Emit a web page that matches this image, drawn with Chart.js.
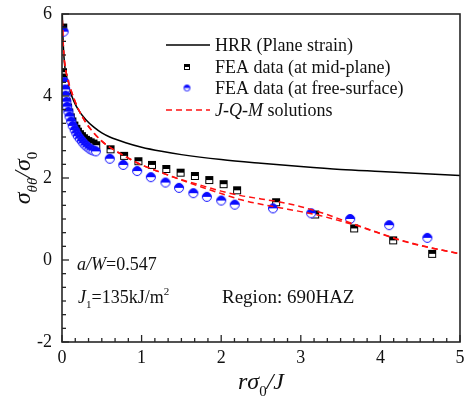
<!DOCTYPE html>
<html><head><meta charset="utf-8">
<script src="https://cdn.jsdelivr.net/npm/chart.js@4.4.1/dist/chart.umd.min.js"></script>
<style>html,body{margin:0;padding:0;background:#fff}canvas{display:block}</style>
</head><body>
<canvas id="c" width="466" height="409"></canvas>
<script>
// ---- data ----
const xTickStep = 1, yTickStep = 2;
const xMinorPerMajor = 6, yMinorPerMajor = 6;
const xRange = [0, 5], yRange = [-2, 6];

const hrrX = [0.004,0.01,0.02,0.03,0.05,0.075,0.1,0.15,0.2,0.3,0.4,0.5,0.6,0.8,1.0,1.25,1.5,2.0,2.5,3.0,3.5,4.0,4.5,5.0];
const hrrY = [6.0,5.55,5.1,4.82,4.5,4.3,4.12,3.87,3.68,3.42,3.24,3.10,3.0,2.86,2.75,2.65,2.57,2.45,2.36,2.28,2.21,2.16,2.11,2.06];

const midX = [0.015,0.012,0.018,0.025,0.035,0.05,0.06,0.075,0.09,0.11,0.13,0.155,0.18,0.20,0.225,0.25,0.275,0.30,0.33,0.36,0.395,0.43,0.61,0.78,0.96,1.13,1.31,1.49,1.67,1.85,2.03,2.20,2.69,3.18,3.67,4.16,4.65];
const midY = [5.67,4.58,4.45,4.30,4.15,3.98,3.85,3.72,3.60,3.48,3.38,3.28,3.20,3.13,3.07,3.02,2.97,2.93,2.90,2.87,2.84,2.80,2.70,2.54,2.41,2.32,2.22,2.13,2.05,1.95,1.85,1.70,1.41,1.11,0.77,0.48,0.15];

const freeX = [0.02,0.03,0.04,0.045,0.055,0.065,0.08,0.095,0.115,0.135,0.16,0.18,0.20,0.225,0.25,0.27,0.295,0.32,0.345,0.37,0.395,0.425,0.60,0.77,0.944,1.116,1.30,1.47,1.65,1.82,2.00,2.17,2.65,3.13,3.62,4.11,4.59];
const freeY = [5.57,4.34,4.16,4.01,3.86,3.74,3.62,3.50,3.38,3.27,3.17,3.09,3.02,2.96,2.90,2.85,2.80,2.76,2.72,2.69,2.67,2.65,2.47,2.32,2.17,2.02,1.89,1.76,1.63,1.54,1.45,1.35,1.26,1.14,1.00,0.85,0.54];

const jqmX  = [0.004,0.02,0.04,0.07,0.1,0.15,0.2,0.3,0.4,0.5,0.6,0.8,1.0,1.25,1.5,1.75,2.0,2.25,2.5,2.75,3.0,3.25,3.5,3.75,4.0,4.25,4.5,4.75,5.0];
const jqmAY = [5.85,5.1,4.72,4.42,4.22,3.94,3.70,3.35,3.10,2.90,2.75,2.52,2.32,2.13,1.96,1.82,1.68,1.57,1.49,1.41,1.30,1.16,0.99,0.82,0.65,0.49,0.36,0.25,0.15];
const jqmBY = [5.85,5.1,4.72,4.42,4.22,3.94,3.70,3.35,3.10,2.90,2.75,2.52,2.32,2.13,1.95,1.78,1.62,1.47,1.36,1.27,1.18,1.08,0.95,0.81,0.64,0.48,0.35,0.25,0.15];

const legendItems = [
  [{t:'HRR (Plane strain)'}],
  [{t:'FEA data (at mid-plane)'}],
  [{t:'FEA data (at free-surface)'}],
  [{t:'J-Q-M',i:true},{t:' solutions'}]
];
const xTitle = [{t:'r',i:true},{t:'σ',i:true},{t:'0',sub:true},{t:'/J',i:true}];
const yTitle = [{t:'σ',i:true},{t:'θθ',i:true,sub:true},{t:'/σ',i:true},{t:'0',sub:true}];
const noteAW = [{t:'a/W',i:true},{t:'=0.547'}];
const noteJ = [{t:'J',i:true},{t:'1',sub:true},{t:'=135kJ/m'},{t:'2',sup:true}];
const noteRegion = [{t:'Region: 690HAZ'}];

// ---- styling ----
const FONT = '"Liberation Serif","Times New Roman",serif';
const BLUE = '#0a0aff', RED = '#ff1010', AXIS = '#262626';

function halfMarker(shape, color, size){
  const c = document.createElement('canvas');
  c.width = size + 2; c.height = size + 2;
  const g = c.getContext('2d');
  const m = (size + 2) / 2, r = size / 2;
  g.lineWidth = 1; g.strokeStyle = color;
  if (shape === 'rect') {
    g.fillStyle = '#fff'; g.fillRect(1, 1, size, size);
    g.fillStyle = color; g.fillRect(1, 1, size, size / 2);
    g.strokeRect(1.5, 1.5, size - 1, size - 1);
  } else {
    g.beginPath(); g.arc(m, m, r - 0.5, 0, 2 * Math.PI); g.fillStyle = '#fff'; g.fill();
    g.beginPath(); g.arc(m, m, r - 0.5, Math.PI, 2 * Math.PI); g.closePath(); g.fillStyle = color; g.fill();
    g.beginPath(); g.arc(m, m, r - 0.5, 0, 2 * Math.PI); g.stroke();
  }
  return c;
}
const sqMark = halfMarker('rect', '#000', 8);
const ciMark = halfMarker('circle', BLUE, 10);
const sqLeg = halfMarker('rect', '#000', 6);
const ciLeg = halfMarker('circle', BLUE, 7);

function segFont(s, size){
  const fs = (s.sub || s.sup) ? Math.round(size * 0.62) : size;
  return (s.i ? 'italic ' : '') + fs + 'px ' + FONT;
}
function richWidth(ctx, segs, size){
  let w = 0;
  for (const s of segs){ ctx.font = segFont(s, size); w += ctx.measureText(s.t).width; }
  return w;
}
function drawRich(ctx, segs, x, y, size){
  let cx = x;
  ctx.textBaseline = 'alphabetic'; ctx.textAlign = 'left';
  for (const s of segs){
    ctx.font = segFont(s, size);
    const dy = s.sub ? size * 0.28 : s.sup ? -size * 0.42 : 0;
    ctx.fillText(s.t, cx, y + dy);
    cx += ctx.measureText(s.t).width;
  }
}

const decor = {
  id: 'decor',
  afterDraw(chart){
    const {ctx, chartArea: a, scales: {x, y}} = chart;
    ctx.save();
    // frame
    ctx.strokeStyle = AXIS; ctx.lineWidth = 1.6;
    ctx.strokeRect(a.left, a.top, a.right - a.left, a.bottom - a.top);
    // inward ticks
    ctx.lineWidth = 1.3;
    const nx = Math.round((xRange[1] - xRange[0]) / xTickStep * xMinorPerMajor);
    for (let i = 0; i <= nx; i++){
      const v = xRange[0] + i * xTickStep / xMinorPerMajor;
      const px = x.getPixelForValue(v);
      const len = (i % xMinorPerMajor === 0) ? 7 : 4;
      ctx.beginPath(); ctx.moveTo(px, a.bottom); ctx.lineTo(px, a.bottom - len); ctx.stroke();
    }
    const ny = Math.round((yRange[1] - yRange[0]) / yTickStep * yMinorPerMajor);
    for (let i = 0; i <= ny; i++){
      const v = yRange[0] + i * yTickStep / yMinorPerMajor;
      const py = y.getPixelForValue(v);
      const len = (i % yMinorPerMajor === 0) ? 7 : 4;
      ctx.beginPath(); ctx.moveTo(a.left, py); ctx.lineTo(a.left + len, py); ctx.stroke();
    }
    ctx.fillStyle = '#111';
    // legend
    const rows = [45, 67, 88, 110];
    const lx0 = 166, lx1 = 210, mx = 187, tx = 215;
    const ds = chart.data.datasets;
    ctx.strokeStyle = ds[0].borderColor; ctx.lineWidth = ds[0].borderWidth; ctx.setLineDash([]);
    ctx.beginPath(); ctx.moveTo(lx0, rows[0]); ctx.lineTo(lx1, rows[0]); ctx.stroke();
    ctx.drawImage(sqLeg, mx - sqLeg.width/2, rows[1] - sqLeg.height/2);
    ctx.drawImage(ciLeg, mx - ciLeg.width/2, rows[2] - ciLeg.height/2);
    ctx.strokeStyle = ds[3].borderColor; ctx.lineWidth = ds[3].borderWidth; ctx.setLineDash(ds[3].borderDash);
    ctx.beginPath(); ctx.moveTo(lx0, rows[3]); ctx.lineTo(lx1, rows[3]); ctx.stroke();
    ctx.setLineDash([]);
    legendItems.forEach((segs, k) => drawRich(ctx, segs, tx, rows[k] + 6, 18));
    // notes
    drawRich(ctx, noteAW, 77, 270, 18);
    drawRich(ctx, noteJ, 78, 303, 18);
    drawRich(ctx, noteRegion, 222, 303, 19);
    // x title
    const xw = richWidth(ctx, xTitle, 24);
    drawRich(ctx, xTitle, (a.left + a.right) / 2 - xw / 2, 389, 24);
    // y title
    const yw = richWidth(ctx, yTitle, 24);
    ctx.translate(30, (a.top + a.bottom) / 2);
    ctx.rotate(-Math.PI / 2);
    drawRich(ctx, yTitle, -yw / 2, 0, 24);
    ctx.restore();
  }
};

const pts = (xs, ys) => xs.map((v, i) => ({x: v, y: ys[i]}));

new Chart(document.getElementById('c'), {
  type: 'scatter',
  data: {
    datasets: [
      {label:'HRR (Plane strain)', type:'line', data: pts(hrrX, hrrY), borderColor:'#000', borderWidth:1.5,
       pointRadius:0, fill:false, cubicInterpolationMode:'monotone', order:3},
      {label:'FEA data (at mid-plane)', data: pts(midX, midY), pointStyle: sqMark, pointRadius:4, order:2},
      {label:'FEA data (at free-surface)', data: pts(freeX, freeY), pointStyle: ciMark, pointRadius:5, order:1},
      {label:'J-Q-M solutions', type:'line', data: pts(jqmX, jqmAY), borderColor:RED, borderWidth:1.5, borderDash:[6,4],
       pointRadius:0, fill:false, cubicInterpolationMode:'monotone', order:0},
      {label:'J-Q-M solutions (2)', type:'line', data: pts(jqmX, jqmBY), borderColor:RED, borderWidth:1.5, borderDash:[6,4],
       pointRadius:0, fill:false, cubicInterpolationMode:'monotone', order:0}
    ]
  },
  options: {
    responsive:false, animation:false, devicePixelRatio:1,
    layout:{padding:{top:14, right:3, left:0, bottom:0}},
    plugins:{legend:{display:false}, tooltip:{enabled:false}},
    scales:{
      x:{type:'linear', min:xRange[0], max:xRange[1],
         ticks:{stepSize:xTickStep, color:'#111', padding:5, font:{family:FONT, size:18}},
         grid:{display:false, drawTicks:false}, border:{display:false},
         afterFit(s){ s.height = 67; s.paddingLeft = 0; s.paddingRight = 0; }},
      y:{type:'linear', min:yRange[0], max:yRange[1],
         ticks:{stepSize:yTickStep, color:'#111', padding:10, font:{family:FONT, size:18}},
         grid:{display:false, drawTicks:false}, border:{display:false},
         afterFit(s){ s.width = 62; s.paddingTop = 0; s.paddingBottom = 0; }}
    }
  },
  plugins:[decor]
});
</script>
</body></html>
